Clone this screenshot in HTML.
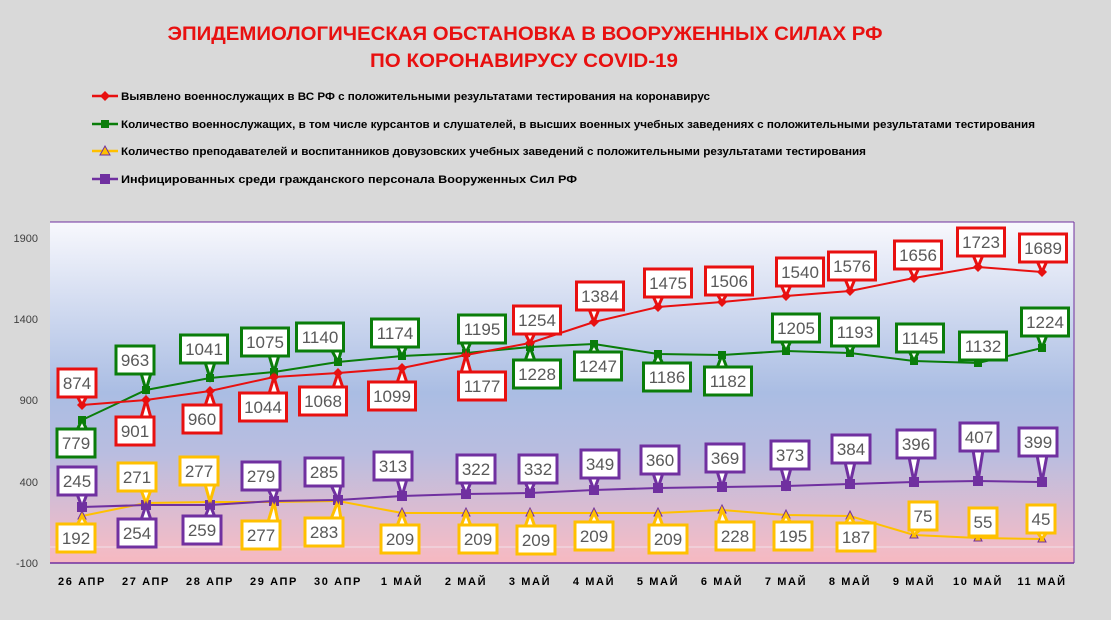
<!DOCTYPE html>
<html><head><meta charset="utf-8"><style>
html,body{margin:0;padding:0;background:#d9d9d9;}
svg{display:block;font-family:"Liberation Sans",sans-serif;}
.cl text{font-size:17px;fill:#595959;text-anchor:middle;}
.r polygon,.r rect{fill:#fff;stroke:#e81010;stroke-width:3;}
.g polygon,.g rect{fill:#fff;stroke:#0a7d0a;stroke-width:3;}
.p polygon,.p rect{fill:#fff;stroke:#7030a0;stroke-width:3;}
.y polygon,.y rect{fill:#fff;stroke:#ffc000;stroke-width:3;}
.xl text{font-size:11px;font-weight:bold;letter-spacing:1.6px;text-anchor:middle;fill:#000;}
.yl text{font-size:11px;fill:#404040;text-anchor:end;}
.lg text{font-size:11px;font-weight:bold;fill:#000;}
</style></head><body>
<svg width="1111" height="620" viewBox="0 0 1111 620" xmlns="http://www.w3.org/2000/svg">
<defs>
<linearGradient id="bg" x1="0" y1="0" x2="0" y2="1">
<stop offset="0" stop-color="#f8f8fd"/>
<stop offset="0.5" stop-color="#aabde3"/>
<stop offset="0.68" stop-color="#b9bde0"/>
<stop offset="0.95" stop-color="#f0bcc8"/>
<stop offset="1" stop-color="#f6b8c0"/>
</linearGradient>
</defs>
<rect width="1111" height="620" fill="#d9d9d9"/>
<text x="525" y="40" font-size="19" font-weight="bold" fill="#e81010" text-anchor="middle" textLength="715" lengthAdjust="spacingAndGlyphs">ЭПИДЕМИОЛОГИЧЕСКАЯ ОБСТАНОВКА В ВООРУЖЕННЫХ СИЛАХ РФ</text>
<text x="524" y="67" font-size="19" font-weight="bold" fill="#e81010" text-anchor="middle" textLength="308" lengthAdjust="spacingAndGlyphs">ПО КОРОНАВИРУСУ COVID-19</text>

<g class="lg">
<line x1="92" y1="96" x2="118" y2="96" stroke="#e81010" stroke-width="2.5"/><polygon points="105,91 110,96 105,101 100,96" fill="#e81010"/>
<text x="121" y="100" textLength="589" lengthAdjust="spacingAndGlyphs">Выявлено военнослужащих в ВС РФ с положительными результатами тестирования на коронавирус</text>
<line x1="92" y1="124" x2="118" y2="124" stroke="#0a7d0a" stroke-width="2.5"/><rect x="101" y="120" width="8" height="8" fill="#0a7d0a"/>
<text x="121" y="128" textLength="914" lengthAdjust="spacingAndGlyphs">Количество военнослужащих, в том числе курсантов и слушателей, в высших военных учебных заведениях с положительными результатами тестирования</text>
<line x1="92" y1="151" x2="118" y2="151" stroke="#ffc000" stroke-width="2.5"/><polygon points="105,146 110,155 100,155" fill="#ffc000" stroke="#7030a0" stroke-width="1"/>
<text x="121" y="155" textLength="745" lengthAdjust="spacingAndGlyphs">Количество преподавателей и воспитанников довузовских учебных заведений с положительными результатами тестирования</text>
<line x1="92" y1="179" x2="118" y2="179" stroke="#7030a0" stroke-width="2.5"/><rect x="100" y="174" width="10" height="10" fill="#7030a0"/>
<text x="121" y="183" textLength="456" lengthAdjust="spacingAndGlyphs">Инфицированных среди гражданского персонала Вооруженных Сил РФ</text>
</g>

<rect x="50" y="222" width="1024" height="341" fill="url(#bg)"/>
<line x1="50" y1="547" x2="1074" y2="547" stroke="#f0e0e8" stroke-width="1"/>
<line x1="50" y1="222" x2="1074" y2="222" stroke="#7030a0" stroke-width="1"/>
<line x1="1074" y1="222" x2="1074" y2="563" stroke="#7030a0" stroke-width="1"/>
<line x1="50" y1="563" x2="1074" y2="563" stroke="#7030a0" stroke-width="1.5"/>

<g class="yl">
<text x="38" y="242">1900</text><text x="38" y="323">1400</text><text x="38" y="404">900</text><text x="38" y="486">400</text><text x="38" y="567">-100</text>
</g>
<g class="xl">
<text x="82" y="585">26 АПР</text><text x="146" y="585">27 АПР</text><text x="210" y="585">28 АПР</text><text x="274" y="585">29 АПР</text><text x="338" y="585">30 АПР</text><text x="402" y="585">1 МАЙ</text><text x="466" y="585">2 МАЙ</text><text x="530" y="585">3 МАЙ</text><text x="594" y="585">4 МАЙ</text><text x="658" y="585">5 МАЙ</text><text x="722" y="585">6 МАЙ</text><text x="786" y="585">7 МАЙ</text><text x="850" y="585">8 МАЙ</text><text x="914" y="585">9 МАЙ</text><text x="978" y="585">10 МАЙ</text><text x="1042" y="585">11 МАЙ</text>
</g>

<!-- lines -->
<polyline fill="none" stroke="#ffc000" stroke-width="2" points="82,516 146,503 210,502 274,502 338,501 402,513 466,513 530,513 594,513 658,513 722,510 786,515 850,516 914,535 978,538 1042,539"/>
<polyline fill="none" stroke="#7030a0" stroke-width="2" points="82,507 146,505 210,505 274,501 338,500 402,496 466,494 530,493 594,490 658,488 722,487 786,486 850,484 914,482 978,481 1042,482"/>
<polyline fill="none" stroke="#0a7d0a" stroke-width="2" points="82,420 146,390 210,378 274,372 338,362 402,356 466,353 530,347 594,344 658,354 722,355 786,351 850,353 914,361 978,363 1042,348"/>
<polyline fill="none" stroke="#e81010" stroke-width="2" points="82,405 146,400 210,391 274,377 338,373 402,368 466,355 530,343 594,322 658,307 722,302 786,296 850,291 914,278 978,267 1042,272"/>

<!-- markers -->
<g fill="#ffc000" stroke="#7030a0" stroke-width="1">
<polygon points="82,511 86,519 78,519"/><polygon points="146,498 150,506 142,506"/><polygon points="210,497 214,505 206,505"/><polygon points="274,497 278,505 270,505"/><polygon points="338,496 342,504 334,504"/><polygon points="402,508 406,516 398,516"/><polygon points="466,508 470,516 462,516"/><polygon points="530,508 534,516 526,516"/><polygon points="594,508 598,516 590,516"/><polygon points="658,508 662,516 654,516"/><polygon points="722,505 726,513 718,513"/><polygon points="786,510 790,518 782,518"/><polygon points="850,511 854,519 846,519"/><polygon points="914,530 918,538 910,538"/><polygon points="978,533 982,541 974,541"/><polygon points="1042,534 1046,542 1038,542"/>
</g>
<g fill="#7030a0">
<rect x="77" y="502" width="10" height="10"/><rect x="141" y="500" width="10" height="10"/><rect x="205" y="500" width="10" height="10"/><rect x="269" y="496" width="10" height="10"/><rect x="333" y="495" width="10" height="10"/><rect x="397" y="491" width="10" height="10"/><rect x="461" y="489" width="10" height="10"/><rect x="525" y="488" width="10" height="10"/><rect x="589" y="485" width="10" height="10"/><rect x="653" y="483" width="10" height="10"/><rect x="717" y="482" width="10" height="10"/><rect x="781" y="481" width="10" height="10"/><rect x="845" y="479" width="10" height="10"/><rect x="909" y="477" width="10" height="10"/><rect x="973" y="476" width="10" height="10"/><rect x="1037" y="477" width="10" height="10"/>
</g>
<g fill="#0a7d0a">
<rect x="78" y="416" width="8" height="8"/><rect x="142" y="386" width="8" height="8"/><rect x="206" y="374" width="8" height="8"/><rect x="270" y="368" width="8" height="8"/><rect x="334" y="358" width="8" height="8"/><rect x="398" y="352" width="8" height="8"/><rect x="462" y="349" width="8" height="8"/><rect x="526" y="343" width="8" height="8"/><rect x="590" y="340" width="8" height="8"/><rect x="654" y="350" width="8" height="8"/><rect x="718" y="351" width="8" height="8"/><rect x="782" y="347" width="8" height="8"/><rect x="846" y="349" width="8" height="8"/><rect x="910" y="357" width="8" height="8"/><rect x="974" y="359" width="8" height="8"/><rect x="1038" y="344" width="8" height="8"/>
</g>
<g fill="#e81010">
<polygon points="82,400 87,405 82,410 77,405"/><polygon points="146,395 151,400 146,405 141,400"/><polygon points="210,386 215,391 210,396 205,391"/><polygon points="274,372 279,377 274,382 269,377"/><polygon points="338,368 343,373 338,378 333,373"/><polygon points="402,363 407,368 402,373 397,368"/><polygon points="466,350 471,355 466,360 461,355"/><polygon points="530,338 535,343 530,348 525,343"/><polygon points="594,317 599,322 594,327 589,322"/><polygon points="658,302 663,307 658,312 653,307"/><polygon points="722,297 727,302 722,307 717,302"/><polygon points="786,291 791,296 786,301 781,296"/><polygon points="850,286 855,291 850,296 845,291"/><polygon points="914,273 919,278 914,283 909,278"/><polygon points="978,262 983,267 978,272 973,267"/><polygon points="1042,267 1047,272 1042,277 1037,272"/>
</g>

<!-- yellow callouts -->
<g class="cl y">
<polygon points="77,525 87,525 82,516"/><rect x="57" y="524" width="38" height="28"/><text x="76" y="544">192</text>
<polygon points="141,490 151,490 146,503"/><rect x="118" y="463" width="38" height="28"/><text x="137" y="483">271</text>
<polygon points="205,484 215,484 210,502"/><rect x="180" y="457" width="38" height="28"/><text x="199" y="477">277</text>
<polygon points="268,522 278,522 274,502"/><rect x="242" y="521" width="38" height="28"/><text x="261" y="541">277</text>
<polygon points="331,519 341,519 338,501"/><rect x="305" y="518" width="38" height="28"/><text x="324" y="538">283</text>
<polygon points="397,526 407,526 402,513"/><rect x="381" y="525" width="38" height="28"/><text x="400" y="545">209</text>
<polygon points="461,526 471,526 466,513"/><rect x="459" y="525" width="38" height="28"/><text x="478" y="545">209</text>
<polygon points="525,527 535,527 530,513"/><rect x="517" y="526" width="38" height="28"/><text x="536" y="546">209</text>
<polygon points="589,523 599,523 594,513"/><rect x="575" y="522" width="38" height="28"/><text x="594" y="542">209</text>
<polygon points="653,526 663,526 658,513"/><rect x="649" y="525" width="38" height="28"/><text x="668" y="545">209</text>
<polygon points="718,523 728,523 722,510"/><rect x="716" y="522" width="38" height="28"/><text x="735" y="542">228</text>
<polygon points="781,523 791,523 786,515"/><rect x="774" y="522" width="38" height="28"/><text x="793" y="542">195</text>
<polygon points="845,524 855,524 850,516"/><rect x="837" y="523" width="38" height="28"/><text x="856" y="543">187</text>
<polygon points="911,529 921,529 914,535"/><rect x="909" y="502" width="28" height="28"/><text x="923" y="522">75</text>
<polygon points="973,535 983,535 978,538"/><rect x="969" y="508" width="28" height="28"/><text x="983" y="528">55</text>
<polygon points="1037,532 1047,532 1042,539"/><rect x="1027" y="505" width="28" height="28"/><text x="1041" y="525">45</text>
</g>
<!-- purple callouts -->
<g class="cl p">
<polygon points="77,494 87,494 82,507"/><rect x="58" y="467" width="38" height="28"/><text x="77" y="487">245</text>
<polygon points="141,520 151,520 146,505"/><rect x="118" y="519" width="38" height="28"/><text x="137" y="539">254</text>
<polygon points="205,517 215,517 210,505"/><rect x="183" y="516" width="38" height="28"/><text x="202" y="536">259</text>
<polygon points="268,489 278,489 274,501"/><rect x="242" y="462" width="38" height="28"/><text x="261" y="482">279</text>
<polygon points="331,485 341,485 338,500"/><rect x="305" y="458" width="38" height="28"/><text x="324" y="478">285</text>
<polygon points="397,479 407,479 402,496"/><rect x="374" y="452" width="38" height="28"/><text x="393" y="472">313</text>
<polygon points="461,482 471,482 466,494"/><rect x="457" y="455" width="38" height="28"/><text x="476" y="475">322</text>
<polygon points="525,482 535,482 530,493"/><rect x="519" y="455" width="38" height="28"/><text x="538" y="475">332</text>
<polygon points="589,477 599,477 594,490"/><rect x="581" y="450" width="38" height="28"/><text x="600" y="470">349</text>
<polygon points="653,473 663,473 658,488"/><rect x="641" y="446" width="38" height="28"/><text x="660" y="466">360</text>
<polygon points="717,471 727,471 722,487"/><rect x="706" y="444" width="38" height="28"/><text x="725" y="464">369</text>
<polygon points="781,468 791,468 786,486"/><rect x="771" y="441" width="38" height="28"/><text x="790" y="461">373</text>
<polygon points="845,462 855,462 850,484"/><rect x="832" y="435" width="38" height="28"/><text x="851" y="455">384</text>
<polygon points="909,457 919,457 914,482"/><rect x="897" y="430" width="38" height="28"/><text x="916" y="450">396</text>
<polygon points="973,450 983,450 978,481"/><rect x="960" y="423" width="38" height="28"/><text x="979" y="443">407</text>
<polygon points="1037,455 1047,455 1042,482"/><rect x="1019" y="428" width="38" height="28"/><text x="1038" y="448">399</text>
</g>
<!-- green callouts -->
<g class="cl g">
<polygon points="77,430 87,430 82,420"/><rect x="57" y="429" width="38" height="28"/><text x="76" y="449">779</text>
<polygon points="141,373 151,373 146,390"/><rect x="116" y="346" width="38" height="28"/><text x="135" y="366">963</text>
<polygon points="205,362 215,362 210,378"/><rect x="180.5" y="335" width="47" height="28"/><text x="204" y="355">1041</text>
<polygon points="269,355 279,355 274,372"/><rect x="241.5" y="328" width="47" height="28"/><text x="265" y="348">1075</text>
<polygon points="331.5,350 341.5,350 338,362"/><rect x="296.5" y="323" width="47" height="28"/><text x="320" y="343">1140</text>
<polygon points="397,346 407,346 402,356"/><rect x="371.5" y="319" width="47" height="28"/><text x="395" y="339">1174</text>
<polygon points="461,342 471,342 466,353"/><rect x="458.5" y="315" width="47" height="28"/><text x="482" y="335">1195</text>
<polygon points="525,361 535,361 530,347"/><rect x="513.5" y="360" width="47" height="28"/><text x="537" y="380">1228</text>
<polygon points="589,353 599,353 594,344"/><rect x="574.5" y="352" width="47" height="28"/><text x="598" y="372">1247</text>
<polygon points="653,364 663,364 658,354"/><rect x="643.5" y="363" width="47" height="28"/><text x="667" y="383">1186</text>
<polygon points="717,368 727,368 722,355"/><rect x="704.5" y="367" width="47" height="28"/><text x="728" y="387">1182</text>
<polygon points="781,341 791,341 786,351"/><rect x="772.5" y="314" width="47" height="28"/><text x="796" y="334">1205</text>
<polygon points="845,345 855,345 850,353"/><rect x="831.5" y="318" width="47" height="28"/><text x="855" y="338">1193</text>
<polygon points="909,351 919,351 914,361"/><rect x="896.5" y="324" width="47" height="28"/><text x="920" y="344">1145</text>
<polygon points="973,359 983,359 978,363"/><rect x="959.5" y="332" width="47" height="28"/><text x="983" y="352">1132</text>
<polygon points="1037,335 1047,335 1042,348"/><rect x="1021.5" y="308" width="47" height="28"/><text x="1045" y="328">1224</text>
</g>
<!-- red callouts -->
<g class="cl r">
<polygon points="77,396 87,396 82,405"/><rect x="58" y="369" width="38" height="28"/><text x="77" y="389">874</text>
<polygon points="141,418 151,418 146,400"/><rect x="116" y="417" width="38" height="28"/><text x="135" y="437">901</text>
<polygon points="205,406 215,406 210,391"/><rect x="183" y="405" width="38" height="28"/><text x="202" y="425">960</text>
<polygon points="269,394 279,394 274,377"/><rect x="239.5" y="393" width="47" height="28"/><text x="263" y="413">1044</text>
<polygon points="333,388 343,388 338,373"/><rect x="299.5" y="387" width="47" height="28"/><text x="323" y="407">1068</text>
<polygon points="397,383 407,383 402,368"/><rect x="368.5" y="382" width="47" height="28"/><text x="392" y="402">1099</text>
<polygon points="461,373 471,373 466,355"/><rect x="458.5" y="372" width="47" height="28"/><text x="482" y="392">1177</text>
<polygon points="525,333 535,333 530,343"/><rect x="513.5" y="306" width="47" height="28"/><text x="537" y="326">1254</text>
<polygon points="589,309 599,309 594,322"/><rect x="576.5" y="282" width="47" height="28"/><text x="600" y="302">1384</text>
<polygon points="653,296 663,296 658,307"/><rect x="644.5" y="269" width="47" height="28"/><text x="668" y="289">1475</text>
<polygon points="717,294 727,294 722,302"/><rect x="705.5" y="267" width="47" height="28"/><text x="729" y="287">1506</text>
<polygon points="781,285 791,285 786,296"/><rect x="776.5" y="258" width="47" height="28"/><text x="800" y="278">1540</text>
<polygon points="845,279 855,279 850,291"/><rect x="828.5" y="252" width="47" height="28"/><text x="852" y="272">1576</text>
<polygon points="909,268 919,268 914,278"/><rect x="894.5" y="241" width="47" height="28"/><text x="918" y="261">1656</text>
<polygon points="973,255 983,255 978,267"/><rect x="957.5" y="228" width="47" height="28"/><text x="981" y="248">1723</text>
<polygon points="1037,261 1047,261 1042,272"/><rect x="1019.5" y="234" width="47" height="28"/><text x="1043" y="254">1689</text>
</g>
</svg>
</body></html>
